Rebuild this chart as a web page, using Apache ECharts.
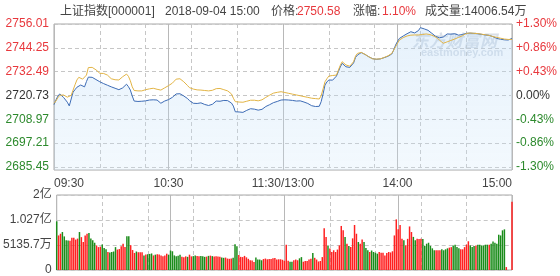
<!DOCTYPE html>
<html><head><meta charset="utf-8">
<script src="https://cdn.jsdelivr.net/npm/echarts@6/dist/echarts.min.js"></script>
<style>html,body{margin:0;padding:0;background:#fff}#c{width:560px;height:276px}</style>
</head><body><div id="c"></div>
<script>
const preClose = 2720.73;
const priceTicks = [2685.45, 2697.21, 2708.97, 2720.73, 2732.49, 2744.25, 2756.01];
const pctLabels = ['-1.30%','-0.86%','-0.43%','0.00%','+0.43%','+0.86%','+1.30%'];
const volTickLabels = ['0','5135.7万','1.027亿','2亿'];
const volTickStep = 5135.7;
const xTickCats = ['09:30','10:30','11:30','14:00','15:00'];
const xTickLabels = ['09:30','10:30','11:30/13:00','14:00','15:00'];

const price = [
2716.2,2718.5,2720.4,2721.5,2720.6,2719.8,2719.1,2717.4,2715.6,2719.0,
2722.4,2723.6,2724.8,2725.6,2725.9,2725.3,2725.0,2727.6,2729.8,2730.1,
2729.7,2729.3,2728.6,2728.0,2727.5,2727.2,2726.6,2726.3,2725.8,2725.4,
2725.0,2724.6,2724.3,2723.9,2723.6,2723.4,2724.5,2725.4,2726.3,2725.1,
2723.4,2720.5,2718.0,2718.4,2717.8,2718.2,2717.9,2717.7,2718.1,2718.3,
2718.5,2718.2,2718.6,2718.4,2718.5,2717.6,2716.9,2717.4,2718.0,2718.3,
2718.7,2719.0,2719.8,2720.7,2721.5,2722.1,2721.6,2721.0,2720.5,2720.1,
2719.2,2718.2,2717.4,2716.9,2717.2,2716.8,2716.9,2717.1,2716.6,2716.3,
2716.0,2715.8,2715.7,2716.4,2717.2,2718.0,2718.2,2717.9,2718.1,2718.3,
2718.0,2718.2,2718.0,2717.0,2715.5,2712.7,2712.5,2712.6,2712.3,2712.4,
2712.9,2713.4,2713.8,2714.2,2714.4,2714.0,2713.8,2713.5,2713.2,2713.9,
2714.8,2715.3,2715.7,2716.2,2716.8,2717.2,2717.4,2717.8,2718.3,2718.5,
2718.4,2718.6,2718.2,2718.5,2718.1,2718.3,2718.0,2718.0,2717.8,2718.1,
2717.7,2717.5,2717.4,2716.8,2716.2,2715.7,2715.5,2715.3,2715.2,2715.4,
2717.7,2721.5,2725.9,2727.4,2728.4,2728.1,2728.3,2729.2,2730.3,2732.5,
2734.8,2736.6,2735.8,2734.9,2735.3,2734.6,2734.1,2736.8,2739.5,2740.7,
2741.3,2741.9,2741.5,2741.0,2740.7,2739.8,2739.1,2738.9,2738.7,2738.6,
2738.6,2738.8,2739.0,2739.4,2739.7,2740.1,2740.6,2741.2,2743.2,2745.6,
2747.4,2748.9,2749.5,2750.1,2750.6,2751.2,2751.8,2752.2,2751.8,2751.6,
2751.4,2752.8,2754.2,2754.0,2753.6,2753.4,2752.9,2752.0,2751.4,2750.6,
2749.9,2749.6,2749.2,2748.9,2749.6,2750.4,2751.1,2751.3,2751.0,2751.4,
2751.2,2750.8,2750.5,2750.3,2750.8,2751.1,2751.4,2751.3,2751.5,2751.6,
2751.4,2751.3,2751.2,2751.1,2750.9,2750.8,2750.6,2750.5,2750.4,2750.3,
2749.8,2749.3,2748.9,2748.7,2748.5,2748.3,2748.2,2748.1,2748.1,2748.1,
2748.9
];

const avgPrice = [
2716.8,2718.0,2719.6,2720.8,2721.5,2721.0,2720.4,2719.9,2719.5,2720.8,
2723.4,2726.0,2728.4,2729.7,2729.2,2728.8,2728.4,2730.8,2734.5,2734.8,
2734.6,2734.2,2733.4,2732.5,2731.7,2731.5,2731.6,2731.4,2730.8,2729.9,
2729.0,2728.4,2728.5,2728.3,2728.4,2729.2,2730.0,2730.8,2731.3,2730.2,
2728.0,2725.0,2723.2,2722.6,2723.0,2723.2,2723.0,2723.4,2723.6,2723.8,
2724.0,2724.2,2724.3,2724.0,2723.8,2723.5,2723.4,2723.8,2724.5,2725.2,
2725.6,2725.9,2726.8,2727.8,2728.8,2729.5,2729.0,2728.3,2727.5,2726.6,
2725.6,2724.6,2724.1,2723.9,2723.6,2723.5,2723.4,2723.4,2723.4,2723.2,
2723.1,2723.0,2722.9,2723.3,2723.7,2724.1,2724.3,2724.2,2724.0,2723.6,
2723.3,2723.0,2723.0,2721.5,2719.4,2717.7,2717.6,2717.5,2717.4,2717.4,
2717.6,2717.9,2718.2,2718.4,2718.5,2718.4,2718.2,2718.1,2718.0,2718.6,
2719.3,2719.8,2720.3,2720.9,2721.5,2721.9,2722.1,2722.3,2722.6,2722.6,
2722.4,2722.2,2722.0,2721.8,2721.6,2721.4,2721.2,2721.0,2720.8,2720.6,
2720.4,2720.2,2720.1,2719.8,2719.6,2719.4,2719.3,2719.2,2719.1,2719.0,
2720.6,2724.0,2727.5,2729.0,2730.3,2730.4,2730.6,2730.7,2730.8,2733.2,
2735.6,2737.4,2736.5,2735.8,2735.6,2735.2,2734.9,2737.4,2740.2,2741.5,
2741.8,2742.0,2741.6,2741.0,2740.4,2739.8,2739.2,2738.8,2738.8,2738.7,
2738.8,2738.8,2739.1,2739.5,2739.9,2740.3,2740.9,2741.5,2743.1,2744.8,
2746.5,2748.1,2748.7,2749.3,2749.8,2750.1,2750.3,2750.5,2750.6,2750.6,
2750.6,2750.6,2750.6,2750.8,2751.0,2751.1,2751.0,2750.8,2750.6,2750.1,
2749.6,2749.0,2748.0,2747.2,2746.5,2746.8,2747.2,2747.6,2747.9,2748.2,
2748.6,2749.0,2749.4,2749.7,2750.2,2750.8,2751.3,2751.7,2751.6,2751.5,
2751.4,2751.4,2751.3,2751.2,2751.0,2750.9,2750.7,2750.6,2750.4,2750.2,
2749.8,2749.6,2749.4,2749.2,2749.0,2748.8,2748.6,2748.4,2748.4,2748.4,
2748.4
];

// volume in 万 (10k shares)
const volume = [
10000,7100,7450,7800,6900,6100,6050,6000,6650,6600,
6250,6450,7800,6750,5750,7100,7450,7600,6450,6100,
5600,5050,4700,4800,5250,4500,4250,3700,3600,3700,
3800,4700,4200,4300,4900,5400,4700,6950,6950,5100,
4100,3500,3800,3650,3650,3650,3000,3200,3250,3300,
3400,3000,3150,3250,3200,3000,2800,3000,3350,3150,
4000,3850,3000,2800,2950,3150,2700,2600,2800,2700,
3150,2800,2850,3000,2900,2800,2900,2850,2700,2750,
2900,2950,2850,2750,2800,2750,2700,2550,2500,2550,
2350,2300,2350,2500,5300,4900,3100,2700,2650,2900,
2600,2300,2000,1950,1650,2550,2150,2150,2000,2250,
2350,2200,2250,2250,2400,2450,2150,2200,2200,2100,
1900,5200,1900,1700,1700,2000,2150,2000,2400,2650,
1700,1850,1850,2150,2300,3500,2500,2150,1750,1850,
2650,8600,6800,5050,4400,3700,4050,3700,4200,5050,
9050,8150,6800,5400,4950,4700,6500,9250,7450,5750,
5400,6250,5750,4500,4050,3700,4000,3700,3550,3350,
3700,3550,3550,3000,3500,3700,3600,3850,7100,10400,
8350,9250,6400,6100,5100,6400,8950,7800,6800,6100,
6400,6350,6400,6350,4950,5400,5600,4950,4450,4050,
4050,4050,4050,4250,4050,4250,4450,4600,4700,5050,
5200,4700,4450,4250,4250,4700,5200,5900,5050,4700,
4950,5050,5200,5200,5050,5050,5200,5200,5200,5400,
5850,5600,5400,7250,7100,8150,8350,600,0,0,
14000
];
// per-minute bar direction: u = up (red), d = down (green)
const volDir = [
'duudddduuu','uuduuuuddd','duuudddudd','dduuuuuddu','uuduuududd',
'duduuuuuud','dddddduuud','uudduudddu','duduuuuddu','uuuddduuuu',
'uuuuuddddu','uuuuuuuuuu','uuudduuudd','uuuuuduuuu','uuuduuuuuu',
'uududuuuud','uudddudddd','uuuuuuuuuu','uuuduuuudd','uuuddddddd',
'uuudddduud','ddduuuuudd','duddddddud','ddddddduuu','u'
].join('');

const cats = [];
function hm(t){const h=Math.floor(t/60),m=t%60;return (h<10?'0':'')+h+':'+(m<10?'0':'')+m;}
for (let t = 9*60+30; t <= 11*60+30; t++) cats.push(hm(t));
for (let t = 13*60+1; t <= 15*60; t++) cats.push(hm(t));

const RED = '#e8383d', GREEN = '#2d8a2d', TXT = '#444';
const FONT = 'Arial, "Liberation Sans", "Noto Sans CJK SC", sans-serif';
const UP_BAR = '#ff2020', DN_BAR = '#1a8c1a';

function lblColor(v){ const d = v - preClose; return Math.abs(d) < 0.01 ? '#333' : (d > 0 ? RED : GREEN); }
function tickIdx(v){ return Math.round((v - priceTicks[0]) / (priceTicks[1] - priceTicks[0])); }

const volData = volume.map((v, i) => ({ value: v, itemStyle: { color: volDir[i] === 'd' ? DN_BAR : UP_BAR } }));

const dashed = { type: [4, 3], color: '#c6c6c6', width: 1 };
const solid = { type: 'solid', color: '#b8b8b8', width: 1 };
function catAxis(grid, opts) {
  return Object.assign({
    gridIndex: grid, type: 'category', data: cats, boundaryGap: false,
    axisLine: { show: false }, axisTick: { show: false }, axisLabel: { show: false },
    splitLine: { show: false }
  }, opts);
}

const chart = echarts.init(document.getElementById('c'), null, { renderer: 'canvas' });
chart.setOption({
  animation: false,
  textStyle: { fontFamily: FONT },
  grid: [
    { left: 54, top: 24, width: 458, height: 146, show: true, borderColor: '#a8a8a8', borderWidth: 1, backgroundColor: 'transparent' },
    { left: 54, top: 24, width: 458, height: 143, show: false },
    { left: 54, top: 195, width: 458, height: 75, show: true, borderColor: '#a8a8a8', borderWidth: 1 }
  ],
  xAxis: [
    catAxis(0, {
      axisLabel: {
        show: true, color: TXT, fontSize: 12, margin: 8, fontFamily: FONT,
        interval: (i, v) => xTickCats.indexOf(v) >= 0,
        formatter: v => xTickLabels[xTickCats.indexOf(v)],
        alignMinLabel: 'left', alignMaxLabel: 'right'
      },
      splitLine: { show: true, interval: i => i % 24 === 0, lineStyle: dashed }
    }),
    catAxis(0, { splitLine: { show: true, interval: i => i % 60 === 0, lineStyle: solid } }),
    catAxis(1, { show: false }),
    catAxis(2, { splitLine: { show: true, interval: i => i % 24 === 0, lineStyle: dashed } }),
    catAxis(2, { splitLine: { show: true, interval: i => i % 60 === 0, lineStyle: solid } })
  ],
  yAxis: [
    { gridIndex: 0, type: 'value', min: 2683.97, max: priceTicks[6], show: false },
    { gridIndex: 1, type: 'value', position: 'left', min: priceTicks[0], max: priceTicks[6], interval: priceTicks[1] - priceTicks[0],
      axisLine: { show: false }, axisTick: { show: false },
      axisLabel: { margin: 5, fontSize: 12, fontFamily: FONT, formatter: v => priceTicks[tickIdx(v)].toFixed(2), color: v => lblColor(priceTicks[tickIdx(v)]) },
      splitLine: { show: true, lineStyle: dashed } },
    { gridIndex: 1, type: 'value', position: 'right', min: priceTicks[0], max: priceTicks[6], interval: priceTicks[1] - priceTicks[0],
      axisLine: { show: false }, axisTick: { show: false },
      axisLabel: { margin: 5, fontSize: 12, fontFamily: FONT, formatter: v => pctLabels[tickIdx(v)], color: v => lblColor(priceTicks[tickIdx(v)]) },
      splitLine: { show: false } },
    { gridIndex: 2, type: 'value', min: 0, max: volTickStep * 3, interval: volTickStep,
      axisLine: { show: false }, axisTick: { show: false },
      axisLabel: { margin: 5, fontSize: 12, color: TXT, fontFamily: FONT, formatter: v => volTickLabels[Math.round(v / volTickStep)] },
      splitLine: { show: true, lineStyle: dashed } }
  ],
  graphic: [
    { type: 'text', x: 60, y: 12, style: { text: '上证指数[000001]', fill: TXT, font: '12px ' + FONT, verticalAlign: 'middle' } },
    { type: 'text', x: 165, y: 12, style: { text: '2018-09-04 15:00', fill: TXT, font: '12px ' + FONT, verticalAlign: 'middle' } },
    { type: 'text', x: 271, y: 12, style: { text: '价格:', fill: TXT, font: '12px ' + FONT, verticalAlign: 'middle' } },
    { type: 'text', x: 297, y: 12, style: { text: '2750.58', fill: RED, font: '12px ' + FONT, verticalAlign: 'middle' } },
    { type: 'text', x: 353, y: 12, style: { text: '涨幅:', fill: TXT, font: '12px ' + FONT, verticalAlign: 'middle' } },
    { type: 'text', x: 382, y: 12, style: { text: '1.10%', fill: RED, font: '12px ' + FONT, verticalAlign: 'middle' } },
    { type: 'text', x: 425, y: 12, style: { text: '成交量:14006.54万', fill: TXT, font: '12px ' + FONT, verticalAlign: 'middle' } },
    { type: 'text', x: 412, y: 41, z: 0, style: { text: '东方财富网', fill: 'rgba(120,140,170,0.28)', font: 'bold italic 17px "Noto Sans CJK SC"', verticalAlign: 'middle' } },
    { type: 'text', x: 421, y: 53, z: 0, style: { text: 'eastmoney.com', fill: 'rgba(120,140,170,0.28)', font: 'bold 11px Arial', verticalAlign: 'middle' } }
  ],
  series: [
    { type: 'line', name: '价格', xAxisIndex: 0, yAxisIndex: 0, data: price, symbol: 'none', z: 3,
      lineStyle: { color: '#3c6bb5', width: 1 },
      areaStyle: { origin: 'start', color: new echarts.graphic.LinearGradient(0, 0, 0, 1, [
        { offset: 0, color: 'rgba(175,212,245,0.45)' }, { offset: 1, color: 'rgba(205,230,250,0.35)' }]) } },
    { type: 'line', name: '均价', xAxisIndex: 0, yAxisIndex: 0, data: avgPrice, symbol: 'none', z: 4,
      lineStyle: { color: '#e2b445', width: 1 } },
    { type: 'bar', name: '成交量', xAxisIndex: 3, yAxisIndex: 3, data: volData, barCategoryGap: '22%' }
  ]
});
</script></body></html>
